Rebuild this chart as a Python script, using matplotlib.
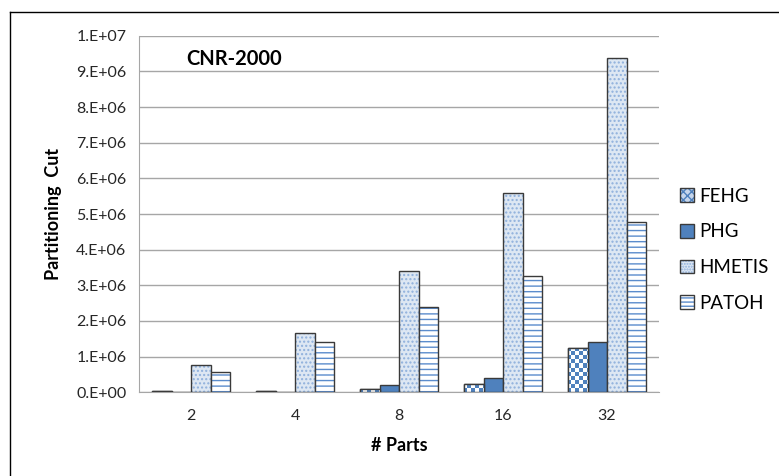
import numpy as np
import matplotlib
matplotlib.use("Agg")
import matplotlib.pyplot as plt
from matplotlib.patches import Patch
from matplotlib.lines import Line2D

plt.rcParams['font.family'] = ['Lato', 'DejaVu Sans']

# data
parts = ["2", "4", "8", "16", "32"]
fehg = [0.05e6, 0.05e6, 0.10e6, 0.24e6, 1.24e6]
phg = [0.015e6, 0.015e6, 0.20e6, 0.40e6, 1.42e6]
hmetis = [0.77e6, 1.65e6, 3.41e6, 5.60e6, 9.37e6]
patoh = [0.58e6, 1.40e6, 2.38e6, 3.26e6, 4.78e6]
series_names = ["FEHG", "PHG", "HMETIS", "PATOH"]
ytick_vals = [0, 1e6, 2e6, 3e6, 4e6, 5e6, 6e6, 7e6, 8e6, 9e6, 1e7]
ytick_labels = ["0.E+00", "1.E+06", "2.E+06", "3.E+06", "4.E+06", "5.E+06",
                "6.E+06", "7.E+06", "8.E+06", "9.E+06", "1.E+07"]

blue = "#4f81bd"
edge = "#3a3a3a"
dot_col = matplotlib.colors.to_rgba("#8fb0dc")
line_col = matplotlib.colors.to_rgba("#5b8ccc")

fig = plt.figure(figsize=(7.79, 4.76), dpi=100)
ax = fig.add_axes([139 / 779, 1 - 392.3 / 476, 520 / 779, 356.6 / 476])

x = np.arange(len(parts))
w = 0.185
offs = [-0.28, -0.095, 0.095, 0.28]

b_fehg = ax.bar(x + offs[0], fehg, w, facecolor="white", edgecolor=edge, linewidth=1.0, zorder=3)
b_phg = ax.bar(x + offs[1], phg, w, facecolor=blue, edgecolor=edge, linewidth=1.0, zorder=3)
b_hm = ax.bar(x + offs[2], hmetis, w, facecolor="#dde7f3", edgecolor=edge, linewidth=1.0,
              hatch="....", zorder=3)
b_pa = ax.bar(x + offs[3], patoh, w, facecolor="white", edgecolor=edge, linewidth=1.0,
              hatch="---", zorder=3)
for b in b_hm:
    b._hatch_color = dot_col
for b in b_pa:
    b._hatch_color = line_col

# checkerboard fill for FEHG bars
ny, nx = 89, 130
checker = (np.add.outer(np.arange(ny), np.arange(nx)) % 2).astype(float)
cmap = matplotlib.colors.ListedColormap(["white", blue])
for b in b_fehg:
    im = ax.imshow(checker, cmap=cmap, extent=[-0.5, 4.5, 0, 1e7], aspect="auto",
                   interpolation="nearest", zorder=3.5)
    im.set_clip_path(b)
    ax.add_patch(plt.Rectangle(b.get_xy(), b.get_width(), b.get_height(),
                               facecolor="none", edgecolor=edge, linewidth=1.0, zorder=4))
ax.set_xlim(-0.5, 4.5)
ax.set_ylim(0, 1e7)

ax.set_xticks(x)
ax.set_xticklabels(parts, fontsize=11.5, color="#262626")
ax.set_yticks(ytick_vals)
ax.set_yticklabels(ytick_labels, fontsize=11.5, color="#262626")
ax.tick_params(length=0, pad=9)
ax.tick_params(axis="x", pad=12)
ax.grid(axis="y", color="#a6a6a6", linewidth=1.0, zorder=0)
ax.set_axisbelow(True)
for s in ["top", "right"]:
    ax.spines[s].set_visible(False)
for s in ["left", "bottom"]:
    ax.spines[s].set_color("#a6a6a6")

ax.set_xlabel("# Parts", fontsize=13, fontweight="bold", labelpad=10)
ax.set_ylabel("Partitioning  Cut", fontsize=13, fontweight="bold", labelpad=10)

ax.text(0.09, 0.935, "CNR-2000", transform=ax.transAxes, fontsize=14.5,
        fontweight="bold", ha="left", va="center")

handles = [
    Patch(facecolor="#c6d6ec", edgecolor=edge, hatch="xxxx"),
    Patch(facecolor=blue, edgecolor=edge),
    Patch(facecolor="#dde7f3", edgecolor=edge, hatch="......"),
    Patch(facecolor="white", edgecolor=edge, hatch="----"),
]
handles[0]._hatch_color = matplotlib.colors.to_rgba(blue)
handles[2]._hatch_color = dot_col
handles[3]._hatch_color = line_col
fig.legend(handles, series_names, loc="upper left", bbox_to_anchor=(672 / 779, 1 - 180 / 476),
           frameon=False, fontsize=13.5, handlelength=0.75, handleheight=0.75,
           handletextpad=0.3, labelspacing=1.0, borderaxespad=0)

# outer frame of the original figure panel
fig.add_artist(Line2D([10 / 779, 10 / 779], [0, 1 - 12 / 476], color="black", linewidth=1.0))
fig.add_artist(Line2D([10 / 779, 1], [1 - 12 / 476, 1 - 12 / 476], color="black", linewidth=1.0))

fig.savefig("out.png", dpi=100)
